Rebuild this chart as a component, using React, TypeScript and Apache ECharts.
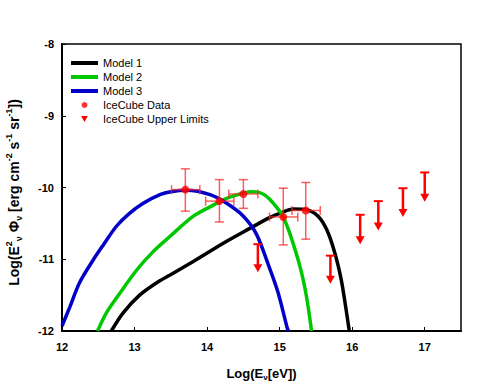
import React, { useEffect, useRef } from "react";
import * as echarts from "echarts";

const xTicks = [12, 13, 14, 15, 16, 17];
const yTicks = [-12, -11, -10, -9, -8];

const model1X = [12.68, 12.84, 13.07, 13.3, 13.49, 13.81, 14.27, 14.59, 14.86, 15.0, 15.19, 15.37, 15.53, 15.65, 15.76, 15.85, 15.91, 15.96];
const model1Y = [-12, -11.75, -11.5, -11.33, -11.22, -11.03, -10.75, -10.57, -10.42, -10.36, -10.3, -10.31, -10.4, -10.59, -10.91, -11.29, -11.66, -12];

const model2X = [12.49, 12.61, 12.8, 13.03, 13.26, 13.49, 13.81, 14.04, 14.27, 14.5, 14.63, 14.75, 14.86, 15.0, 15.05, 15.14, 15.28, 15.37, 15.44];
const model2Y = [-12, -11.75, -11.47, -11.15, -10.89, -10.68, -10.4, -10.27, -10.15, -10.08, -10.06, -10.08, -10.16, -10.33, -10.41, -10.64, -11.1, -11.52, -12];

const model3X = [12.0, 12.11, 12.24, 12.43, 12.57, 12.75, 12.93, 13.12, 13.35, 13.5, 13.72, 14.04, 14.27, 14.5, 14.68, 14.86, 14.98, 15.1, 15.12];
const model3Y = [-11.93, -11.66, -11.33, -11.01, -10.8, -10.54, -10.36, -10.22, -10.1, -10.06, -10.04, -10.1, -10.22, -10.4, -10.65, -11.12, -11.47, -11.94, -12];

const dataX = [13.7, 14.17, 14.5, 15.05, 15.36];
const dataY = [-10.03, -10.19, -10.09, -10.41, -10.32];
const dataXLo = [13.51, 13.98, 14.3, 14.86, 15.17];
const dataXHi = [13.9, 14.37, 14.7, 15.25, 15.56];
const dataYLo = [-10.33, -10.48, -10.29, -10.8, -10.72];
const dataYHi = [-9.74, -9.89, -9.89, -10.01, -9.93];

const ulX = [14.7, 15.7, 16.11, 16.36, 16.7, 17.0];
const ulY = [-10.79, -10.95, -10.38, -10.19, -10.01, -9.79];
const ulTip = [-11.18, -11.34, -10.79, -10.6, -10.41, -10.2];

const FONT = '"Liberation Sans", Arial, sans-serif';
const RED = "#ff0000";
const ERR = "rgba(255,40,40,0.75)";

const zip = (xs: number[], ys: number[]) => xs.map((x, i) => [x, ys[i]]);

export default function App() {
  const ref = useRef<HTMLDivElement>(null);
  useEffect(() => {
    if (!ref.current) return;
    const chart = echarts.init(ref.current, null, { renderer: "svg" });
    const lineSeries = (name: string, xs: number[], ys: number[], color: string) => ({
      name,
      type: "line",
      data: zip(xs, ys),
      smooth: 0.3,
      symbol: "none",
      lineStyle: { color, width: 3.5 },
      itemStyle: { color },
      clip: true,
      z: 2,
    });
    chart.setOption({
      animation: false,
      grid: {
        left: 62,
        right: 24,
        top: 44,
        bottom: 56,
        outerBoundsMode: "none",
        containLabel: false,
        show: true,
        borderColor: "#000",
        borderWidth: 1.5,
        backgroundColor: "transparent",
      },
      legend: {
        orient: "vertical",
        left: 66,
        top: 52,
        itemWidth: 27,
        itemHeight: 6,
        itemGap: 2,
        selectedMode: false,
        textStyle: { fontSize: 11, fontFamily: FONT, color: "#000", lineHeight: 12 },
        data: [
          { name: "Model 1", icon: "path://M0,0H27V4H0Z" },
          { name: "Model 2", icon: "path://M0,0H27V4H0Z" },
          { name: "Model 3", icon: "path://M0,0H27V4H0Z" },
          { name: "IceCube Data", icon: "circle" },
          { name: "IceCube Upper Limits", icon: "path://M0,0L10,0L5,9Z" },
        ],
      },
      xAxis: {
        type: "value",
        min: 12,
        max: 17.5,
        interval: 1,
        name: "{n|Log(E}{sub|ν}{n|[eV])}",
        nameLocation: "middle",
        nameGap: 34,
        nameTextStyle: {
          rich: {
            n: { fontSize: 13, fontWeight: "bold", fontFamily: FONT, color: "#000", lineHeight: 16 },
            sub: { fontSize: 8, fontWeight: "bold", fontFamily: FONT, color: "#000", verticalAlign: "bottom" },
          },
        },
        axisLine: { show: true, onZero: false, lineStyle: { color: "#000", width: 2 } },
        axisTick: { show: true, inside: true, length: 4, customValues: xTicks, lineStyle: { color: "#000", width: 1 } },
        axisLabel: {
          customValues: xTicks,
          fontSize: 11,
          fontWeight: "bold",
          fontFamily: FONT,
          color: "#000",
          margin: 10,
        },
        splitLine: { show: false },
      },
      yAxis: {
        type: "value",
        min: -12,
        max: -8,
        interval: 1,
        name: "{n|Log(E}{sup|2}{sub|ν}{n| Φ}{sub|ν}{n| [erg cm}{sup|-2}{n| s}{sup|-1}{n| sr}{sup|-1}{n|])}",
        nameLocation: "middle",
        nameGap: 39,
        nameTextStyle: {
          padding: [0, 10, 0, 0],
          rich: {
            n: { fontSize: 14, fontWeight: "bold", fontFamily: FONT, color: "#000", lineHeight: 19 },
            sup: { fontSize: 9, fontWeight: "bold", fontFamily: FONT, color: "#000", verticalAlign: "top" },
            sub: { fontSize: 9, fontWeight: "bold", fontFamily: FONT, color: "#000", verticalAlign: "bottom" },
          },
        },
        axisLine: { show: true, onZero: false, lineStyle: { color: "#000", width: 2 } },
        axisTick: { show: true, inside: true, length: 4, lineStyle: { color: "#000", width: 1 } },
        axisLabel: {
          customValues: yTicks,
          fontSize: 11,
          fontWeight: "bold",
          fontFamily: FONT,
          color: "#000",
          margin: 8,
        },
        splitLine: { show: false },
      },
      series: [
        lineSeries("Model 1", model1X, model1Y, "#000000"),
        lineSeries("Model 2", model2X, model2Y, "#00c800"),
        lineSeries("Model 3", model3X, model3Y, "#0000c8"),
        {
          name: "errors",
          type: "custom",
          z: 3,
          data: dataX.map((x, i) => [x, dataY[i], dataXLo[i], dataXHi[i], dataYLo[i], dataYHi[i]]),
          renderItem: (_p: any, api: any) => {
            const x = api.value(0), y = api.value(1);
            const pT = api.coord([x, api.value(5)]);
            const pB = api.coord([x, api.value(4)]);
            const pL = api.coord([api.value(2), y]);
            const pR = api.coord([api.value(3), y]);
            const cap = 4.5;
            const style = { stroke: ERR, lineWidth: 1.5 };
            const ln = (x1: number, y1: number, x2: number, y2: number) => ({ type: "line", shape: { x1, y1, x2, y2 }, style });
            return {
              type: "group",
              children: [
                ln(pT[0], pT[1], pB[0], pB[1]),
                ln(pL[0], pL[1], pR[0], pR[1]),
                ln(pT[0] - cap, pT[1], pT[0] + cap, pT[1]),
                ln(pB[0] - cap, pB[1], pB[0] + cap, pB[1]),
                ln(pL[0], pL[1] - cap, pL[0], pL[1] + cap),
                ln(pR[0], pR[1] - cap, pR[0], pR[1] + cap),
              ],
            };
          },
        },
        {
          name: "IceCube Data",
          type: "scatter",
          z: 4,
          data: zip(dataX, dataY),
          symbol: "circle",
          symbolSize: 8,
          itemStyle: { color: RED },
        },
        {
          name: "IceCube Upper Limits",
          type: "custom",
          z: 4,
          itemStyle: { color: RED },
          data: ulX.map((x, i) => [x, ulY[i], ulTip[i]]),
          renderItem: (_p: any, api: any) => {
            const x = api.value(0);
            const pT = api.coord([x, api.value(1)]);
            const pE = api.coord([x, api.value(2)]);
            const cap = 4.5;
            const ah = 8;
            const aw = 4.5;
            return {
              type: "group",
              children: [
                { type: "line", shape: { x1: pT[0], y1: pT[1], x2: pE[0], y2: pE[1] - ah + 1 }, style: { stroke: RED, lineWidth: 2.5 } },
                { type: "line", shape: { x1: pT[0] - cap, y1: pT[1], x2: pT[0] + cap, y2: pT[1] }, style: { stroke: RED, lineWidth: 2 } },
                {
                  type: "polygon",
                  shape: { points: [[pE[0] - aw, pE[1] - ah], [pE[0] + aw, pE[1] - ah], [pE[0], pE[1]]] },
                  style: { fill: RED },
                },
              ],
            };
          },
        },
      ],
    });
    return () => chart.dispose();
  }, []);
  return <div ref={ref} style={{ width: 485, height: 387, position: "absolute", left: 0, top: 0 }} />;
}
